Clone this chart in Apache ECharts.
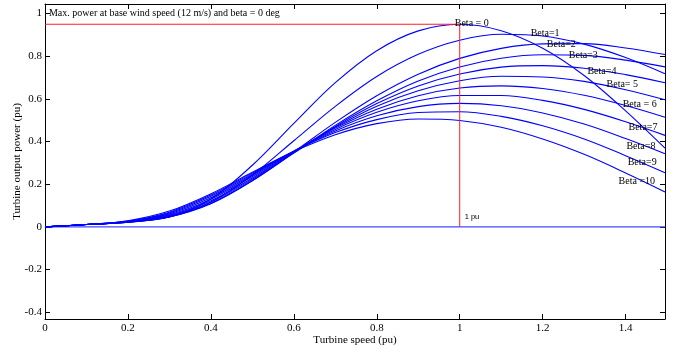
<!DOCTYPE html>
<html>
<head>
<meta charset="utf-8">
<script src="https://cdn.jsdelivr.net/npm/echarts@6/dist/echarts.min.js"></script>
<style>html,body{margin:0;padding:0;background:#fff}#c{width:679px;height:354px}</style>
</head>
<body>
<div id="c"></div>
<script>
// Turbine speed (pu)
const speed = [0, 0.1, 0.2, 0.3, 0.4, 0.5, 0.6, 0.7, 0.8, 0.9, 1.0, 1.1, 1.2, 1.3, 1.4, 1.495];
// Turbine output power (pu), one array per pitch angle
const beta0  = [0, 0.011, 0.022, 0.047, 0.131, 0.289, 0.485, 0.676, 0.826, 0.919, 0.950, 0.920, 0.838, 0.710, 0.544, 0.369];
const beta1  = [0, 0.011, 0.022, 0.046, 0.116, 0.243, 0.404, 0.565, 0.705, 0.809, 0.875, 0.903, 0.895, 0.857, 0.794, 0.718];
const beta2  = [0, 0.011, 0.022, 0.046, 0.108, 0.216, 0.351, 0.490, 0.615, 0.716, 0.790, 0.837, 0.858, 0.859, 0.839, 0.808];
const beta3  = [0, 0.011, 0.023, 0.048, 0.111, 0.217, 0.346, 0.476, 0.591, 0.684, 0.750, 0.791, 0.807, 0.804, 0.782, 0.750];
const beta4  = [0, 0.011, 0.023, 0.050, 0.117, 0.223, 0.348, 0.471, 0.578, 0.661, 0.717, 0.749, 0.756, 0.744, 0.714, 0.676];
const beta5  = [0, 0.011, 0.023, 0.054, 0.123, 0.229, 0.351, 0.467, 0.566, 0.638, 0.685, 0.706, 0.703, 0.682, 0.643, 0.596];
const beta6  = [0, 0.011, 0.024, 0.057, 0.130, 0.236, 0.353, 0.463, 0.552, 0.615, 0.651, 0.661, 0.649, 0.617, 0.569, 0.514];
const beta7  = [0, 0.011, 0.025, 0.061, 0.136, 0.242, 0.355, 0.457, 0.537, 0.591, 0.616, 0.616, 0.593, 0.551, 0.493, 0.429];
const beta8  = [0, 0.011, 0.026, 0.065, 0.143, 0.247, 0.355, 0.450, 0.521, 0.564, 0.579, 0.568, 0.534, 0.482, 0.414, 0.343];
const beta9  = [0, 0.011, 0.027, 0.069, 0.149, 0.252, 0.355, 0.442, 0.503, 0.536, 0.540, 0.518, 0.474, 0.412, 0.334, 0.254];
const beta10 = [0, 0.011, 0.029, 0.074, 0.155, 0.256, 0.353, 0.432, 0.484, 0.506, 0.499, 0.467, 0.412, 0.340, 0.253, 0.164];

// Curve annotations (text and anchor in data units)
const betaLabels = ['Beta = 0', 'Beta=1', 'Beta=2', 'Beta=3', 'Beta=4', 'Beta= 5', 'Beta = 6', 'Beta=7', 'Beta=8', 'Beta=9', 'Beta =10'];
const betaLabelX = [0.988, 1.171, 1.210, 1.263, 1.308, 1.354, 1.393, 1.407, 1.402, 1.405, 1.383];
const betaLabelY = [0.955, 0.909, 0.857, 0.806, 0.731, 0.670, 0.576, 0.468, 0.379, 0.304, 0.211];

// Reference lines
const maxPower = 0.95;
const baseSpeed = 1;
const titleText = 'Max. power at base wind speed (12 m/s) and beta = 0 deg';
const titlePos = [0.0096, 1.0];
const puText = '1 pu';
const puPos = [1.012, 0.047];

// Axes
const xTicks = [0, 0.2, 0.4, 0.6, 0.8, 1, 1.2, 1.4];
const yTicks = [-0.4, -0.2, 0, 0.2, 0.4, 0.6, 0.8, 1];
const xRange = [0, 1.495];
const yRange = [-0.432, 1.045];

const curves = [beta0, beta1, beta2, beta3, beta4, beta5, beta6, beta7, beta8, beta9, beta10];

const serif = 'Liberation Serif, Times New Roman, serif';
const fmt = v => String(+Number(v).toFixed(2));

const series = [];
// zero line
series.push({
  type: 'line', data: [[xRange[0], 0], [xRange[1], 0]], symbol: 'none',
  lineStyle: { color: '#3d4dff', width: 1.3 }, silent: true, z: 2
});
curves.forEach(c => {
  series.push({
    type: 'line', data: speed.map((x, i) => [x, c[i]]), symbol: 'none', smooth: 0.35,
    lineStyle: { color: '#0000ff', width: 1.1 }, silent: true, z: 3
  });
});
// red max-power marker lines
series.push({
  type: 'line', data: [[0, maxPower], [baseSpeed, maxPower]], symbol: 'none',
  lineStyle: { color: '#ff2020', width: 1 }, silent: true, z: 4
});
series.push({
  type: 'line', data: [[baseSpeed, maxPower], [baseSpeed, 0]], symbol: 'none',
  lineStyle: { color: '#ff2020', width: 1 }, silent: true, z: 4
});

function textSeries(items, font, size) {
  return {
    type: 'scatter', symbol: 'circle', symbolSize: 0, itemStyle: { color: 'rgba(0,0,0,0)' }, silent: true, z: 6,
    data: items,
    label: { show: true, position: 'right', distance: 0, formatter: p => p.name, opacity: 1,
             fontFamily: font, fontSize: size, color: '#000', align: 'left', verticalAlign: 'middle' }
  };
}
series.push(textSeries(betaLabels.map((t, i) => ({ name: t, value: [betaLabelX[i], betaLabelY[i]] })), serif, 10));
series.push(textSeries([{ name: titleText, value: titlePos }], serif, 10));
series.push(textSeries([{ name: puText, value: puPos }], 'Liberation Sans, Arial, sans-serif', 7.5));

const axisLine = { show: true, onZero: false, lineStyle: { color: '#000', width: 1 } };

const option = {
  animation: false,
  backgroundColor: '#fff',
  grid: { left: 45, right: 14, top: 4, bottom: 35, containLabel: false, outerBoundsMode: 'none' },
  xAxis: [
    {
      type: 'value', min: xRange[0], max: xRange[1], position: 'bottom',
      axisLine: axisLine, splitLine: { show: false },
      axisTick: { inside: true, length: 5, lineStyle: { color: '#000' }, customValues: xTicks },
      axisLabel: { customValues: xTicks, formatter: fmt, fontFamily: serif, fontSize: 11, color: '#000', margin: 4 },
      name: 'Turbine speed (pu)', nameLocation: 'middle', nameGap: 16, nameMoveOverlap: false,
      nameTextStyle: { fontFamily: serif, fontSize: 11, color: '#000' }
    },
    {
      type: 'value', min: xRange[0], max: xRange[1], position: 'top',
      axisLine: axisLine, splitLine: { show: false },
      axisTick: { inside: true, length: 5, lineStyle: { color: '#000' }, customValues: xTicks },
      axisLabel: { show: false }
    }
  ],
  yAxis: [
    {
      type: 'value', min: yRange[0], max: yRange[1], position: 'left',
      axisLine: axisLine, splitLine: { show: false },
      axisTick: { inside: true, length: 5, lineStyle: { color: '#000' }, customValues: yTicks },
      axisLabel: { customValues: yTicks, formatter: fmt, fontFamily: serif, fontSize: 11, color: '#000', margin: 3 },
      name: 'Turbine output power (pu)', nameLocation: 'middle', nameGap: 22, nameMoveOverlap: false,
      nameTextStyle: { fontFamily: serif, fontSize: 11, color: '#000' }
    },
    {
      type: 'value', min: yRange[0], max: yRange[1], position: 'right',
      axisLine: axisLine, splitLine: { show: false },
      axisTick: { inside: true, length: 5, lineStyle: { color: '#000' }, customValues: yTicks },
      axisLabel: { show: false }
    }
  ],
  series: series
};

const chart = echarts.init(document.getElementById('c'), null, { renderer: 'canvas' });
chart.setOption(option);
</script>
</body>
</html>
